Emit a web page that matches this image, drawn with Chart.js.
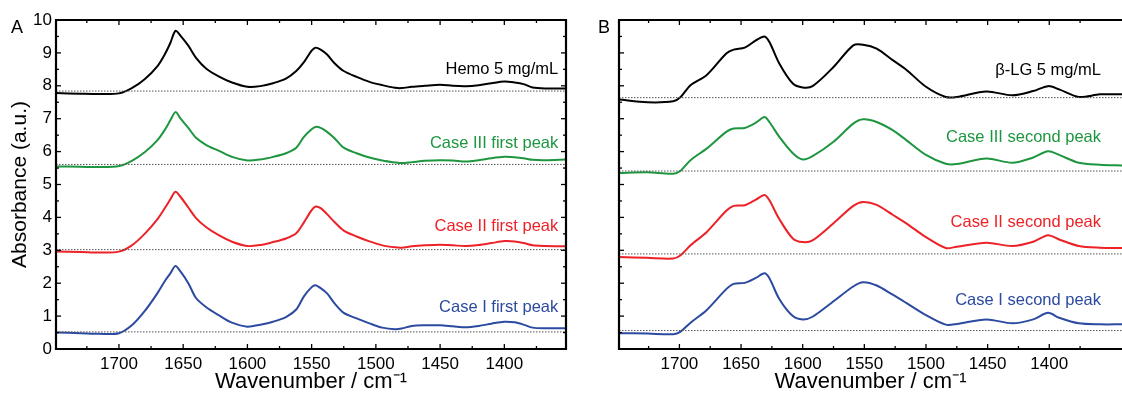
<!DOCTYPE html>
<html><head><meta charset="utf-8">
<script src="https://cdn.jsdelivr.net/npm/chart.js@4.4.1/dist/chart.umd.min.js"></script>
<style>
html,body{margin:0;padding:0;background:#fff;}
#wrap{position:relative;width:1122px;height:395px;overflow:hidden;background:#fff;}
#ca{position:absolute;left:0;top:0;}
#cb{position:absolute;left:576px;top:0;}
</style></head><body>
<div id="wrap"><canvas id="ca" width="572" height="395"></canvas><canvas id="cb" width="546" height="395"></canvas></div>
<script>
// ---------- Panel A data ----------
const wnA = [1749,1730,1715,1700,1690,1680,1670,1664,1660,1656,1652,1646,1640,1632,1622,1612,1600,1590,1580,1570,1562,1556,1550,1547,1543,1538,1532,1525,1515,1505,1495,1485,1480,1472,1462,1450,1440,1430,1420,1410,1400,1392,1385,1378,1368,1352];
const hemo = [7.78,7.76,7.75,7.77,7.93,8.2,8.6,8.98,9.3,9.67,9.52,9.22,8.85,8.52,8.28,8.1,7.97,7.99,8.08,8.22,8.45,8.72,9.07,9.16,9.1,8.95,8.68,8.45,8.27,8.12,8.02,7.94,7.93,7.97,8.0,8.03,8.0,7.99,8.02,8.08,8.13,8.1,8.05,7.95,7.92,7.92];
const caseIIIfirst = [5.55,5.54,5.53,5.56,5.72,5.98,6.35,6.68,6.95,7.2,7.0,6.72,6.42,6.2,6.02,5.84,5.73,5.76,5.84,5.95,6.12,6.45,6.68,6.75,6.72,6.6,6.4,6.12,5.95,5.82,5.73,5.67,5.65,5.68,5.72,5.74,5.73,5.7,5.74,5.8,5.84,5.83,5.8,5.75,5.74,5.76];
const caseIIfirst = [2.96,2.95,2.93,2.96,3.15,3.5,3.95,4.3,4.55,4.78,4.62,4.3,3.98,3.7,3.45,3.26,3.13,3.16,3.25,3.36,3.52,3.85,4.22,4.33,4.28,4.1,3.85,3.6,3.42,3.27,3.15,3.09,3.08,3.12,3.15,3.17,3.15,3.13,3.16,3.22,3.28,3.27,3.22,3.15,3.13,3.12];
const caseIfirst = [0.5,0.48,0.46,0.48,0.72,1.15,1.7,2.08,2.3,2.52,2.35,2.0,1.55,1.27,1.02,0.8,0.68,0.74,0.83,0.97,1.2,1.6,1.88,1.94,1.85,1.69,1.38,1.1,0.93,0.78,0.65,0.6,0.62,0.7,0.72,0.72,0.69,0.66,0.7,0.77,0.83,0.81,0.74,0.65,0.63,0.63];
const baselinesA = [7.84,5.61,3.02,0.52];
const labelsA = ['Hemo 5 mg/mL','Case III first peak','Case II first peak','Case I first peak'];
const labelYA = [8.5,6.26,3.74,1.25];

// ---------- Panel B data ----------
const wnB = [1749,1726,1705,1699,1691,1678,1662,1656,1647,1638,1631,1627,1619,1608,1600,1592,1575,1559,1551,1540,1527,1516,1500,1484,1475,1451,1430,1413,1401,1392,1376,1359,1341];
const betaLG = [7.58,7.5,7.53,7.66,8.02,8.32,8.98,9.1,9.16,9.38,9.5,9.33,8.68,8.07,7.95,7.99,8.57,9.23,9.25,9.13,8.78,8.49,7.97,7.66,7.66,7.83,7.71,7.84,7.99,7.89,7.66,7.74,7.74];
const caseIIIsecond = [5.35,5.37,5.33,5.42,5.74,6.09,6.6,6.7,6.72,6.88,7.05,6.9,6.45,5.95,5.76,5.86,6.3,6.85,6.98,6.9,6.65,6.35,5.9,5.63,5.62,5.79,5.66,5.82,6.01,5.9,5.66,5.6,5.58];
const caseIIsecond = [2.8,2.77,2.75,2.85,3.15,3.55,4.2,4.35,4.37,4.54,4.68,4.52,3.95,3.36,3.25,3.3,3.82,4.35,4.47,4.38,4.08,3.82,3.4,3.07,3.11,3.23,3.13,3.26,3.46,3.33,3.13,3.08,3.07];
const caseIsecond = [0.48,0.47,0.45,0.53,0.8,1.18,1.82,1.98,2.01,2.16,2.3,2.15,1.52,1.0,0.9,0.98,1.45,1.9,2.03,1.93,1.65,1.4,1.03,0.74,0.76,0.9,0.78,0.9,1.1,0.95,0.78,0.75,0.75];
const baselinesB = [7.64,5.41,2.89,0.56];
const labelsB = ['\u03B2-LG 5 mg/mL','Case III second peak','Case II second peak','Case I second peak'];
const labelYB = [8.47,6.44,3.84,1.47];

// ---------- shared ----------
const xTickValues = [1700,1650,1600,1550,1500,1450,1400];
const yTickValues = [0,1,2,3,4,5,6,7,8,9,10];
const labelX = 1358;
const colors = ['#000000','#1e9640','#ec2227','#2b4aa0'];
const F = "'Liberation Sans', Arial, Helvetica, sans-serif";

function pairs(xs, ys){ return xs.map((v,i)=>({x:v,y:ys[i]})); }

const framePlugin = {
  id:'frame',
  afterDraw(chart, args, o){
    const {ctx, chartArea:a, scales:{x,y}} = chart;
    ctx.save();
    ctx.strokeStyle = '#000';
    ctx.lineWidth = 1.3;
    const xMaj = xTickValues, xMin = xTickValues.map(v=>v+25).concat([xTickValues[xTickValues.length-1]-25]);
    const yMaj = yTickValues, yMin = yTickValues.slice(0,-1).map(v=>v+0.5);
    const seg = (x1,y1,x2,y2)=>{ctx.beginPath();ctx.moveTo(x1,y1);ctx.lineTo(x2,y2);ctx.stroke();};
    [[xMaj,5],[xMin,3]].forEach(([arr,L])=>arr.forEach(v=>{
      const px = x.getPixelForValue(v);
      if(px < a.left+1 || px > a.right-1) return;
      seg(px,a.bottom,px,a.bottom-L);
      seg(px,a.top,px,a.top+L);
    }));
    [[yMaj,5],[yMin,3]].forEach(([arr,L])=>arr.forEach(v=>{
      const py = y.getPixelForValue(v);
      seg(a.left,py,a.left+L,py);
      if(o.rightSide) seg(a.right,py,a.right-L,py);
    }));
    ctx.lineWidth = 2.2;
    ctx.beginPath();
    if(o.rightSide){
      ctx.rect(a.left,a.top,a.right-a.left,a.bottom-a.top);
    } else {
      ctx.moveTo(a.right+2,a.top); ctx.lineTo(a.left,a.top); ctx.lineTo(a.left,a.bottom); ctx.lineTo(a.right+2,a.bottom);
    }
    ctx.stroke();
    ctx.font = '16.5px ' + F;
    ctx.textAlign = 'right'; ctx.textBaseline = 'middle';
    o.labels.forEach((t,i)=>{
      ctx.fillStyle = colors[i];
      ctx.fillText(t, x.getPixelForValue(labelX), y.getPixelForValue(o.labelY[i]));
    });
    ctx.fillStyle = '#000';
    ctx.font = '18px ' + F;
    ctx.textAlign = 'center';
    ctx.fillText(o.letter, o.letterX, 28);
    ctx.restore();
  }
};

function makeChart(id, cfg){
  const ds = [];
  cfg.baselines.forEach(b=>ds.push({data:[{x:cfg.xmax,y:b},{x:cfg.xmin,y:b}], borderColor:'#555', borderWidth:1, borderDash:[1.5,1.5], pointRadius:0, fill:false, tension:0}));
  cfg.series.forEach((s,i)=>ds.push({data:pairs(cfg.wn,s), borderColor:colors[i], borderWidth:2, pointRadius:0, fill:false, tension:0.3}));
  return new Chart(document.getElementById(id), {
    type:'line',
    data:{datasets:ds},
    plugins:[framePlugin],
    options:{
      responsive:false, animation:false, events:[],
      layout:{padding:{top:20,right:cfg.padRight,bottom:0,left:0}},
      plugins:{legend:{display:false}, tooltip:{enabled:false},
        frame:{labels:cfg.labels, labelY:cfg.labelY, rightSide:cfg.rightSide, letter:cfg.letter, letterX:cfg.letterX}},
      scales:{
        x:{type:'linear', reverse:true, min:cfg.xmin, max:cfg.xmax,
          afterBuildTicks:s=>{s.ticks = xTickValues.map(v=>({value:v}));},
          afterFit:s=>{s.height = 46;},
          grid:{display:false, drawTicks:false}, border:{display:false},
          ticks:{font:{size:17,family:F}, color:'#000', padding:5, maxRotation:0, autoSkip:false, callback:v=>String(v)},
          title:{display:true, text:'Wavenumber / cm\u207B\u00B9', font:{size:22,family:F}, color:'#000', padding:{top:0,bottom:0}}},
        y:{type:'linear', min:0, max:10,
          afterBuildTicks:s=>{s.ticks = yTickValues.map(v=>({value:v}));},
          afterFit:s=>{s.width = cfg.yWidth;},
          grid:{display:false, drawTicks:false}, border:{display:false},
          ticks:{display:cfg.yLabels, font:{size:17,family:F}, color:'#000', padding:4, callback:v=>String(v)},
          title:{display:cfg.yLabels, text:'Absorbance (a.u.)', font:{size:21,family:F}, color:'#000', padding:{top:8,bottom:0}}}
      }
    }
  });
}

makeChart('ca', {wn:wnA, series:[hemo,caseIIIfirst,caseIIfirst,caseIfirst], baselines:baselinesA,
  labels:labelsA, labelY:labelYA, xmin:1352, xmax:1749, padRight:6, yWidth:56, yLabels:true, rightSide:true, letter:'A', letterX:17});
makeChart('cb', {wn:wnB, series:[betaLG,caseIIIsecond,caseIIsecond,caseIsecond], baselines:baselinesB,
  labels:labelsB, labelY:labelYB, xmin:1341, xmax:1749, padRight:0, yWidth:43, yLabels:false, rightSide:false, letter:'B', letterX:28});
</script>
</body></html>
